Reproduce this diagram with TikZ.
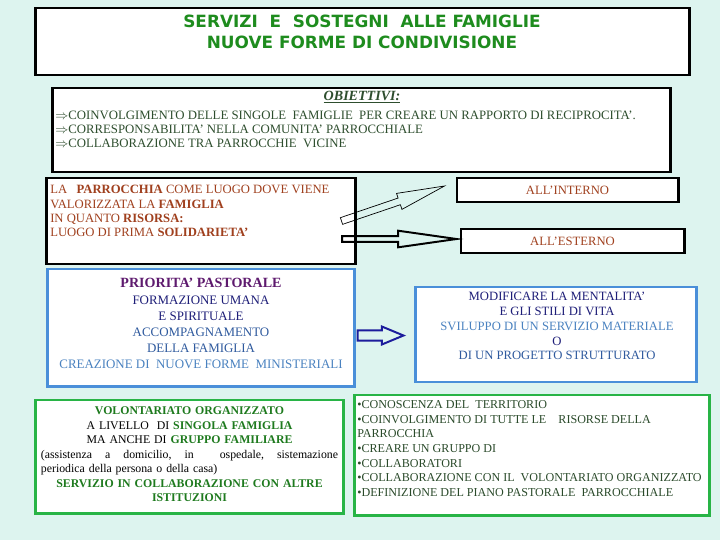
\documentclass[tikz,border=0pt]{standalone}
\usepackage{fontspec}
\setmainfont{Liberation Serif}
\newfontfamily\titlefont{DejaVu Sans}
\usepackage{tikz}
\usetikzlibrary{calc}
\usepackage{xcolor}
\definecolor{bgcyan}{HTML}{DDF4EF}
\definecolor{titlegreen}{HTML}{1E8C1E}
\definecolor{objgreen}{HTML}{2E4E2E}
\definecolor{parbrown}{HTML}{A0401E}
\definecolor{prpurple}{HTML}{5E1A6E}
\definecolor{prnavy}{HTML}{1E1E78}
\definecolor{prmid}{HTML}{2F5A9E}
\definecolor{prlight}{HTML}{4A82C0}
\definecolor{boxblue}{HTML}{4A8FD9}
\definecolor{arrowblue}{HTML}{1C1C9C}
\definecolor{boxgreen}{HTML}{28B446}
\definecolor{volgreen}{HTML}{1E7A1E}
\definecolor{listgreen}{HTML}{2A4A2A}

\begin{document}
\begin{tikzpicture}[x=0.025cm, y=-0.025cm,
  blackbox/.style={draw=black, line width=2.1pt, fill=white, inner sep=0pt},
  bluebox/.style={draw=boxblue, line width=2.1pt, fill=white, inner sep=0pt},
  greenbox/.style={draw=boxgreen, line width=2.1pt, fill=white, inner sep=0pt},
  txt/.style={inner sep=0pt, font=\fontsize{9}{10.3}\selectfont}]
\path[use as bounding box, fill=bgcyan] (0,0) rectangle (720,540);

% Title
\node[blackbox, minimum width=16.325cm, minimum height=1.675cm] (titlebox) at (362.5,41.5) {};
\node[inner sep=0pt, align=center, text=titlegreen, font=\titlefont\bfseries\fontsize{12}{15}\selectfont] (titletxt) at (362,32)
  {SERVIZI\ \ E\ \ SOSTEGNI\ \ ALLE FAMIGLIE\\NUOVE FORME DI CONDIVISIONE};

% Obiettivi
\node[blackbox, minimum width=15.425cm, minimum height=2.1cm] (objbox) at (361.5,130) {};
\node[txt, text=objgreen, font=\fontsize{10}{10}\bfseries\itshape\selectfont] (objhead) at (362,97) {\underline{OBIETTIVI:}};
\node[txt, text=objgreen, anchor=north west, align=left, font=\fontsize{9.1}{10}\selectfont] (objlist) at (55,111)
  {$\Rightarrow$COINVOLGIMENTO DELLE SINGOLE\ \ FAMIGLIE\ \ PER CREARE UN RAPPORTO DI RECIPROCITA'.\\
   $\Rightarrow$CORRESPONSABILITA' NELLA COMUNITA' PARROCCHIALE\\
   $\Rightarrow$COLLABORAZIONE TRA PARROCCHIE\ \ VICINE};

% Parrocchia e famiglia
\node[blackbox, minimum width=7.7cm, minimum height=2.15cm] (luogo) at (201,221) {};
\node[txt, text=parbrown, anchor=north west, align=left, font=\fontsize{9}{10.2}\selectfont] (luogotxt) at (50,185)
  {LA\ \ \ \textbf{PARROCCHIA} COME LUOGO DOVE VIENE\\
   VALORIZZATA LA \textbf{FAMIGLIA}\\
   IN QUANTO \textbf{RISORSA:}\\
   LUOGO DI PRIMA \textbf{SOLIDARIETA'}};
\node[blackbox, txt, text=parbrown, minimum width=5.525cm, minimum height=0.6cm] (interno) at (567.5,190) {ALL'INTERNO};
\node[blackbox, txt, text=parbrown, minimum width=5.575cm, minimum height=0.6cm] (esterno) at (572.5,241) {ALL'ESTERNO};

% hollow arrows
\coordinate (intA) at ($(luogo.east)+(-15,0)$);
\coordinate (intB) at ($(interno.west)+(-11,-4)$);
\coordinate (intC) at ($(intB)!34pt!(intA)$);
\draw[black, line width=0.5pt] ($(intA)!2.5pt!90:(intB)$) -- ($(intC)!2.5pt!-90:(intA)$) -- ($(intC)!6pt!-90:(intA)$) -- (intB)
  -- ($(intC)!6pt!90:(intA)$) -- ($(intC)!2.5pt!90:(intA)$) -- ($(intA)!2.5pt!-90:(intB)$) -- cycle;
\coordinate (extA) at ($(luogo.east)+(-14.5,18)$);
\coordinate (extB) at ($(esterno.west)+(-3,-2)$);
\coordinate (extC) at ($(extB)!41.5pt!(extA)$);
\draw[black, line width=1.4pt] ($(extA)!2pt!90:(extB)$) -- ($(extC)!2pt!-90:(extA)$) -- ($(extC)!5.9pt!-90:(extA)$) -- (extB)
  -- ($(extC)!5.9pt!90:(extA)$) -- ($(extC)!2pt!90:(extA)$) -- ($(extA)!2pt!-90:(extB)$) -- cycle;

% Priorita' pastorale
\node[bluebox, minimum width=7.65cm, minimum height=2.925cm] (priorita) at (201,327.5) {};
\node[txt, align=center, anchor=north, font=\fontsize{9.2}{11.4}\selectfont] (prioritxt) at (201,277.5)
  {\textcolor{prpurple}{\fontsize{10}{11.4}\selectfont\textbf{PRIORITA' PASTORALE}}\\[0.7pt]
   \textcolor{prnavy}{FORMAZIONE UMANA}\\
   \textcolor{prnavy}{E SPIRITUALE}\\
   \textcolor{prmid}{ACCOMPAGNAMENTO}\\
   \textcolor{prmid}{DELLA FAMIGLIA}\\
   \textcolor{prlight}{CREAZIONE DI\ \ NUOVE FORME\ \ MINISTERIALI}};
\node[bluebox, minimum width=7cm, minimum height=2.375cm] (mentalita) at (556,334.5) {};
\node[txt, align=center, anchor=north, font=\fontsize{9}{10.5}\selectfont] (mentalitxt) at (557,292)
  {\textcolor{prnavy}{MODIFICARE LA MENTALITA'}\\
   \textcolor{prnavy}{E GLI STILI DI VITA}\\
   \textcolor{prlight}{SVILUPPO DI UN SERVIZIO MATERIALE}\\
   \textcolor{prnavy}{O}\\
   \textcolor{prmid}{DI UN PROGETTO STRUTTURATO}};
\coordinate (mA) at ($(priorita.east)+(2,8)$);
\coordinate (mB) at ($(mentalita.west)+(-11,1)$);
\coordinate (mC) at ($(mB)!15.4pt!(mA)$);
\draw[arrowblue, line width=1.4pt] ($(mA)!3.6pt!90:(mB)$) -- ($(mC)!3.6pt!-90:(mA)$) -- ($(mC)!6.4pt!-90:(mA)$) -- (mB)
  -- ($(mC)!6.4pt!90:(mA)$) -- ($(mC)!3.6pt!90:(mA)$) -- ($(mA)!3.6pt!-90:(mB)$) -- cycle;

% Volontariato
\node[greenbox, minimum width=7.675cm, minimum height=2.825cm] (volont) at (189.5,456.5) {};
\node[txt, text width=7.425cm, align=center, anchor=north, font=\fontsize{8.4}{10.3}\selectfont] (volonttxt) at (189.5,406.5)
  {\textcolor{volgreen}{\textbf{VOLONTARIATO ORGANIZZATO}}\\
   A LIVELLO\ \ DI \textcolor{volgreen}{\textbf{SINGOLA FAMIGLIA}}\\
   MA ANCHE DI \textcolor{volgreen}{\textbf{GRUPPO FAMILIARE}}\\
   \makebox[7.425cm][l]{(assistenza\hfill a\hfill domicilio,\hfill in\hfill\hfill ospedale,\hfill sistemazione}\\
   \makebox[7.425cm][l]{periodica della persona o della casa)}\\
   \textcolor{volgreen}{\textbf{SERVIZIO IN COLLABORAZIONE CON ALTRE}}\\
   \textcolor{volgreen}{\textbf{ISTITUZIONI}}};

% Conoscenza
\node[greenbox, minimum width=8.85cm, minimum height=3cm] (conosc) at (532,455) {};
\node[txt, text=listgreen, anchor=north west, align=left, font=\fontsize{8.6}{10.35}\selectfont] (conosctxt) at (357,400.5)
  {\textbullet CONOSCENZA DEL\ \ TERRITORIO\\
   \textbullet COINVOLGIMENTO DI TUTTE LE\ \ \ \ RISORSE DELLA\\
   PARROCCHIA\\
   \textbullet CREARE UN GRUPPO DI\\
   \textbullet COLLABORATORI\\
   \textbullet COLLABORAZIONE CON IL\ \ VOLONTARIATO ORGANIZZATO\\
   \textbullet DEFINIZIONE DEL PIANO PASTORALE\ \ PARROCCHIALE};
\end{tikzpicture}
\end{document}
